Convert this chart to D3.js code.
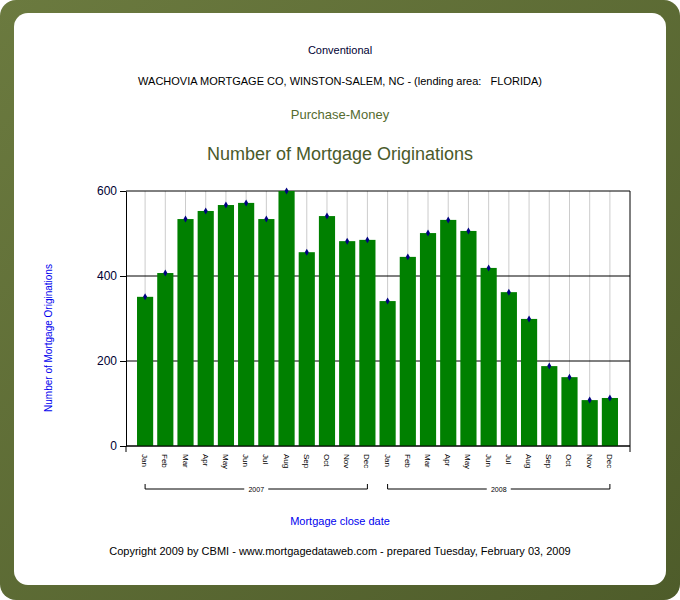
<!DOCTYPE html><html><head><meta charset="utf-8"><script src="https://d3js.org/d3.v7.min.js"></script>
<style>body{margin:0;background:#fff}svg{display:block;font-family:Arial,"Liberation Sans",sans-serif}</style></head><body><svg id="c" width="680" height="600"></svg>
<script>
const months=["Jan","Feb","Mar","Apr","May","Jun","Jul","Aug","Sep","Oct","Nov","Dec"];
const years=["2007","2008"];
const values2007=[351,407,534,553,567,572,534,600,456,541,482,485];
const values2008=[341,445,501,532,506,419,362,299,188,162,108,113];
const yTicks=[0,200,400,600];
const data=[];
years.forEach((y,i)=>months.forEach((m,j)=>data.push({key:y+"-"+m,m,v:(i?values2008:values2007)[j]})));
const svg=d3.select("#c");
const defs=svg.append("defs");
const g=defs.append("linearGradient").attr("id","bg").attr("x1",0).attr("y1",0).attr("x2",1).attr("y2",1);
g.append("stop").attr("offset",0).attr("stop-color","#6b7a3f");g.append("stop").attr("offset",1).attr("stop-color","#4e5c2a");
svg.append("rect").attr("width",680).attr("height",600).attr("rx",16).attr("fill","url(#bg)");
svg.append("rect").attr("x",14).attr("y",13).attr("width",652).attr("height",572).attr("rx",14).attr("fill","#fff");
const L=126,R=630,T=191,B=446;
const x=d3.scaleBand().domain(data.map(d=>d.key)).range([136,619]).paddingInner(0.2).paddingOuter(0.05);
const y=d3.scaleLinear().domain([0,600]).range([B,T]);
const t=(txt,xx,yy,size,col)=>svg.append("text").attr("x",xx).attr("y",yy).attr("text-anchor","middle").attr("font-size",size).attr("fill",col).text(txt);
t("Conventional",340,54,11,"#000033");
t("WACHOVIA MORTGAGE CO, WINSTON-SALEM, NC - (lending area:   FLORIDA)",340,85,11,"#000").attr("xml:space","preserve");
t("Purchase-Money",340,119,13,"#556b2f");
t("Number of Mortgage Originations",340,160,18,"#4a5a2a");
t("Mortgage close date",340,525,11,"#0000ee");
t("Copyright 2009 by CBMI - www.mortgagedataweb.com - prepared Tuesday, February 03, 2009",340,555,11,"#000");
svg.append("text").attr("transform","translate(52,338) rotate(-90)").attr("text-anchor","middle").attr("font-size",10).attr("fill","#0000ee").text("Number of Mortgage Originations");
svg.append("g").selectAll("line").data(data).join("line").attr("x1",d=>x(d.key)+x.bandwidth()/2).attr("x2",d=>x(d.key)+x.bandwidth()/2).attr("y1",T).attr("y2",B).attr("stroke","#ccc");
svg.append("g").selectAll("line").data(yTicks).join("line").attr("x1",L).attr("x2",R).attr("y1",d=>y(d)).attr("y2",d=>y(d)).attr("stroke","#000");
svg.append("line").attr("x1",R).attr("x2",R).attr("y1",T).attr("y2",B).attr("stroke","#000");
svg.append("g").selectAll("rect").data(data).join("rect").attr("x",d=>x(d.key)).attr("width",x.bandwidth()).attr("y",d=>y(d.v)).attr("height",d=>B-y(d.v)).attr("fill","#008000");
svg.append("g").selectAll("path").data(data).join("path").attr("d",d3.symbol(d3.symbolDiamond,14)).attr("transform",d=>`translate(${x(d.key)+x.bandwidth()/2},${y(d.v)})`).attr("fill","#000080");
const ya=svg.append("g").attr("transform",`translate(${L},0)`).call(d3.axisLeft(y).tickValues(yTicks).tickSize(6).tickSizeOuter(0));
ya.selectAll("text").attr("font-size",12).attr("fill","#000033");ya.select(".domain").attr("stroke","#000");
const xa=svg.append("g").attr("transform",`translate(0,${B})`);
xa.append("line").attr("x1",L).attr("x2",R).attr("stroke","#000");
xa.selectAll(".e").data([L,R]).join("line").attr("x1",d=>d).attr("x2",d=>d).attr("y1",0).attr("y2",6).attr("stroke","#000");
xa.selectAll("text").data(data).join("text").attr("transform",d=>`translate(${x(d.key)+x.bandwidth()/2-3},8) rotate(90)`).attr("font-size",8).attr("fill","#000").text(d=>d.m);
years.forEach((yr,i)=>{const a=x(yr+"-Jan")+x.bandwidth()/2,b=x(yr+"-Dec")+x.bandwidth()/2,yy=489;
svg.append("path").attr("d",`M${a},${yy-5}V${yy}H${b}V${yy-5}`).attr("fill","none").attr("stroke","#000");
svg.append("rect").attr("x",(a+b)/2-12).attr("y",yy-5).attr("width",24).attr("height",10).attr("fill","#fff");
t(yr,(a+b)/2,yy+3,7,"#000");});
</script></body></html>
